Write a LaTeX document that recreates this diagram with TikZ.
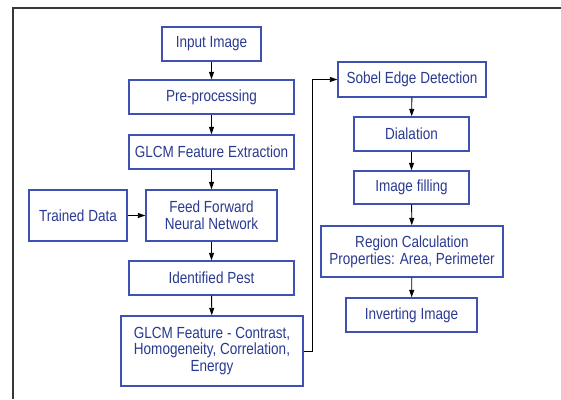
\documentclass[tikz,border=0pt]{standalone}
\usepackage{fontspec}
\setmainfont[FakeStretch=0.84]{Liberation Sans}
\usetikzlibrary{arrows.meta}
\definecolor{boxline}{RGB}{62,82,182}
\definecolor{boxtext}{RGB}{42,58,145}
\definecolor{frameline}{RGB}{55,55,55}
\tikzset{
  stage/.style={draw=boxline, line width=1.4pt, text=boxtext, align=center,
    inner sep=0pt, font=\fontsize{16.1}{16.8}\selectfont},
  flow/.style={draw=black, line width=0.9pt, -{Triangle[length=7.5pt,width=5pt]}}
}
\begin{document}
\begin{tikzpicture}[x=1pt,y=1pt]
\useasboundingbox (0,0) rectangle (561,399);
\fill[white] (0,0) rectangle (561,399);
% page frame (top and left rules)
\draw[frameline, line width=1.6pt] (13,0) -- (13,391) -- (561,391);

% left column
\node[stage, minimum width=99pt,  minimum height=34pt] (input)   at (211.5,355)   {Input Image};
\node[stage, minimum width=165pt, minimum height=34pt] (pre)     at (211.5,302)   {Pre-processing};
\node[stage, minimum width=165pt, minimum height=34pt] (glcm)    at (211.5,247)   {GLCM Feature Extraction};
\node[stage, minimum width=98pt,  minimum height=51pt] (trained) at (78,183.5)    {Trained Data};
\node[stage, minimum width=131pt, minimum height=51pt] (ffnn)    at (211.5,183.5) {Feed Forward\\Neural Network};
\node[stage, minimum width=165pt, minimum height=34pt] (pest)    at (211.5,121)   {Identified Pest};
\node[stage, minimum width=182pt, minimum height=70pt] (glcmb)   at (212,48)      {GLCM Feature - Contrast,\\Homogeneity, Correlation,\\Energy};

% right column
\node[stage, minimum width=148pt, minimum height=35pt] (sobel)   at (412,319.5)   {Sobel Edge Detection};
\node[stage, minimum width=115pt, minimum height=34pt] (dial)    at (411.5,265)   {Dialation};
\node[stage, minimum width=115pt, minimum height=33pt] (fill)    at (411.5,211.5) {Image filling};
\node[stage, minimum width=182pt, minimum height=51pt] (region)  at (412,147.5)   {Region Calculation\\Properties: Area, Perimeter};
\node[stage, minimum width=131pt, minimum height=34pt] (invert)  at (411.5,84)    {Inverting Image};

% connectors
\draw[flow] (input) -- (pre);
\draw[flow] (pre) -- (glcm);
\draw[flow] (glcm.south -| ffnn.north) -- (ffnn);
\draw[flow] (trained) -- (ffnn);
\draw[flow] (ffnn) -- (pest);
\draw[flow] (pest) -- (glcmb);
\draw[flow] (glcmb.east) -- ++(9,0) |- (sobel.west);
\draw[flow] (sobel) -- (dial);
\draw[flow] (dial) -- (fill);
\draw[flow] (fill) -- (region);
\draw[flow] (region) -- (invert);
\end{tikzpicture}
\end{document}
